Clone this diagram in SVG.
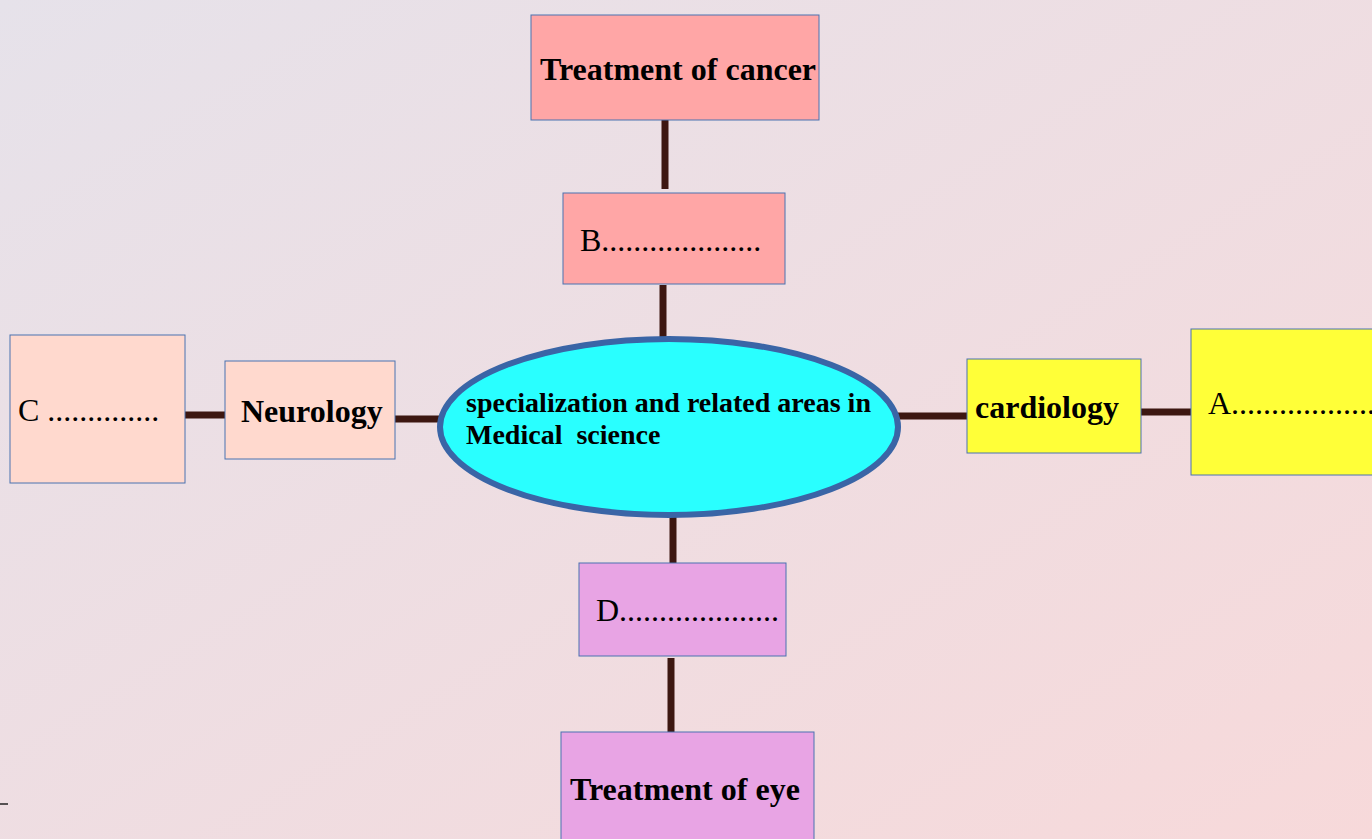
<svg xmlns="http://www.w3.org/2000/svg" width="1372" height="839" viewBox="0 0 1372 839">
<defs>
<linearGradient id="bg" x1="0" y1="0" x2="1" y2="1">
<stop offset="0" stop-color="#e6e2ea"/>
<stop offset="1" stop-color="#f7d9da"/>
</linearGradient>
<style>
.box{stroke:#4a72b0;stroke-width:1}
.conn{stroke:#3d1711;stroke-width:7;fill:none}
.b{font-family:"Liberation Serif",serif;font-weight:bold;fill:#000}
.r{font-family:"Liberation Serif",serif;fill:#000;font-size:32px}
</style>
</defs>
<rect width="1372" height="839" fill="url(#bg)"/>
<line x1="0" y1="804" x2="8" y2="804" stroke="#222" stroke-width="1.5"/>
<g id="connectors">
<line class="conn" x1="665" y1="120" x2="665" y2="189"/>
<line class="conn" x1="663" y1="285" x2="663" y2="339"/>
<line class="conn" x1="673" y1="515" x2="673" y2="563"/>
<line class="conn" x1="671" y1="658" x2="671" y2="732"/>
<line class="conn" x1="395" y1="419" x2="441" y2="419"/>
<line class="conn" x1="185" y1="415" x2="225" y2="415"/>
<line class="conn" x1="898" y1="416" x2="967" y2="416"/>
<line class="conn" x1="1141" y1="412" x2="1191" y2="412"/>
</g>
<g id="center">
<ellipse cx="669" cy="427" rx="229" ry="88" fill="#29ffff" stroke="#3a65a6" stroke-width="6"/>
<text class="b" font-size="28" x="466" y="412">specialization and related areas in</text>
<text class="b" font-size="28" x="466" y="444" xml:space="preserve">Medical  science</text>
</g>
<g id="cancer">
<rect class="box" x="531" y="15" width="288" height="105" fill="#ffa6a6"/>
<text class="b" font-size="32" x="540" y="80">Treatment of cancer</text>
</g>
<g id="nodeB">
<rect class="box" x="563" y="193" width="222" height="91" fill="#ffa6a6"/>
<text class="r" x="580" y="251">B....................</text>
</g>
<g id="neurology">
<rect class="box" x="225" y="361" width="170" height="98" fill="#ffd9ce"/>
<text class="b" font-size="32" x="241" y="422">Neurology</text>
</g>
<g id="nodeC">
<rect class="box" x="10" y="335" width="175" height="148" fill="#ffd9ce"/>
<text class="r" x="18" y="421">C ..............</text>
</g>
<g id="cardiology">
<rect class="box" x="967" y="359" width="174" height="94" fill="#ffff38"/>
<text class="b" font-size="32" x="975" y="418">cardiology</text>
</g>
<g id="nodeA">
<rect class="box" x="1191" y="329" width="190" height="146" fill="#ffff38"/>
<text class="r" x="1208" y="414">A....................</text>
</g>
<g id="nodeD">
<rect class="box" x="579" y="563" width="207" height="93" fill="#e8a4e4"/>
<text class="r" x="596" y="621">D....................</text>
</g>
<g id="eye">
<rect class="box" x="561" y="732" width="253" height="120" fill="#e8a4e4"/>
<text class="b" font-size="32" x="570" y="800">Treatment of eye</text>
</g>
</svg>
